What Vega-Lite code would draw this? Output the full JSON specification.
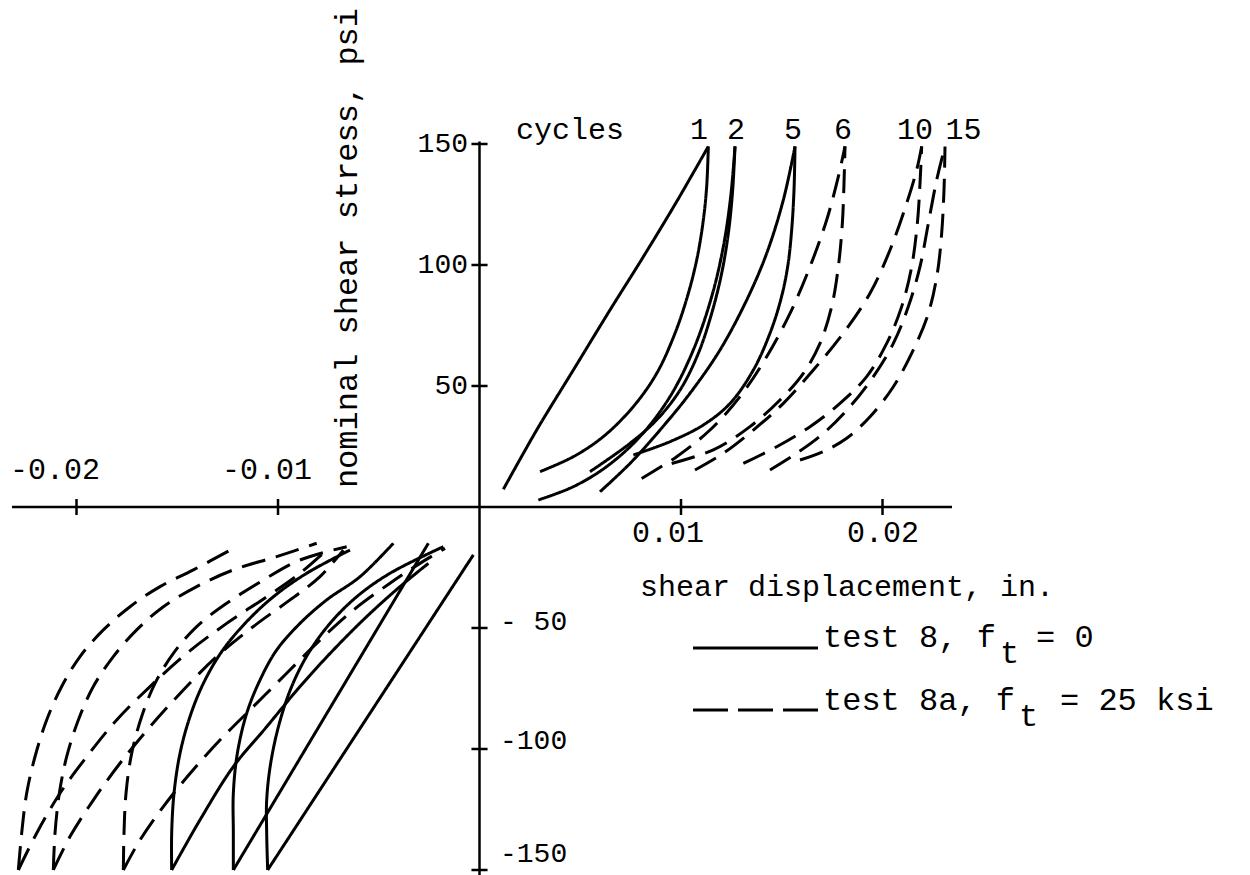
{
"$schema":"https://vega.github.io/schema/vega-lite/v6.json",
"width":1250,"height":875,"autosize":{"type":"none"},"padding":0,
"background":"white",
"config":{"view":{"stroke":null}},
"datasets":{
"rules":[
{"disp":-0.0232,"disp2":0.02345,"stress":0,"stress2":0},
{"disp":0,"disp2":0,"stress":151,"stress2":-153},
{"disp":-0.02,"disp2":-0.02,"stress":3.3,"stress2":-3.3},
{"disp":-0.01,"disp2":-0.01,"stress":3.3,"stress2":-3.3},
{"disp":0.01,"disp2":0.01,"stress":3.3,"stress2":-3.3},
{"disp":0.02,"disp2":0.02,"stress":3.3,"stress2":-3.3},
{"disp":-0.0004,"disp2":0.0004,"stress":150,"stress2":150},
{"disp":-0.0004,"disp2":0.0004,"stress":100,"stress2":100},
{"disp":-0.0004,"disp2":0.0004,"stress":50,"stress2":50},
{"disp":-0.0004,"disp2":0.0004,"stress":-50,"stress2":-50},
{"disp":-0.0004,"disp2":0.0004,"stress":-100,"stress2":-100},
{"disp":-0.0004,"disp2":0.0004,"stress":-150,"stress2":-150}
],
"legend":[
{"test":"test 8","disp":0.010596,"stress":-58.3},
{"test":"test 8","disp":0.016799,"stress":-58.3},
{"test":"test 8a","disp":0.010596,"stress":-83.9},
{"test":"test 8a","disp":0.016799,"stress":-83.9}
],
"labels":[
{"text":"nominal shear stress, psi","disp":-0.006576,"stress":107.0,"kind":"title"},
{"text":"cycles","disp":0.004491,"stress":155.8,"kind":"c"},
{"text":"1","disp":0.010893,"stress":155.8,"kind":"c"},
{"text":"2","disp":0.01273,"stress":155.8,"kind":"c"},
{"text":"5","disp":0.015558,"stress":155.8,"kind":"c"},
{"text":"6","disp":0.01804,"stress":155.8,"kind":"c"},
{"text":"10","disp":0.021613,"stress":155.8,"kind":"c"},
{"text":"15","disp":0.02402,"stress":155.8,"kind":"c"},
{"text":"-0.02","disp":-0.021067,"stress":15.3,"kind":"c"},
{"text":"-0.01","disp":-0.010546,"stress":15.3,"kind":"c"},
{"text":"0.01","disp":0.009355,"stress":-10.7,"kind":"c"},
{"text":"0.02","disp":0.020025,"stress":-10.7,"kind":"c"},
{"text":"150","disp":-0.00057,"stress":150,"kind":"r"},
{"text":"100","disp":-0.00057,"stress":100,"kind":"r"},
{"text":"50","disp":-0.00057,"stress":50,"kind":"r"},
{"text":"- 50","disp":0.001017,"stress":-47.5,"kind":"l"},
{"text":"-100","disp":0.001017,"stress":-96.5,"kind":"l"},
{"text":"-150","disp":0.001017,"stress":-143.5,"kind":"l"},
{"text":"shear displacement, in.","disp":0.007965,"stress":-33.1,"kind":"t"},
{"text":"test 8, f","disp":0.017047,"stress":-53.7,"kind":"g"},
{"text":"t","disp":0.025831,"stress":-60.3,"kind":"g"},
{"text":"= 0","disp":0.027618,"stress":-53.7,"kind":"g"},
{"text":"test 8a, f","disp":0.017047,"stress":-79.8,"kind":"g"},
{"text":"t","disp":0.026774,"stress":-86.4,"kind":"g"},
{"text":"= 25 ksi","disp":0.028809,"stress":-79.8,"kind":"g"}
],
"curves":[
{"curve":"s1a","test":"test 8","k":0,"disp":0.001183,"stress":7.3},
{"curve":"s1a","test":"test 8","k":1,"disp":0.002837,"stress":31.8},
{"curve":"s1a","test":"test 8","k":2,"disp":0.004657,"stress":56.6},
{"curve":"s1a","test":"test 8","k":3,"disp":0.006476,"stress":81.4},
{"curve":"s1a","test":"test 8","k":4,"disp":0.00813,"stress":103.4},
{"curve":"s1a","test":"test 8","k":5,"disp":0.009785,"stress":126.2},
{"curve":"s1a","test":"test 8","k":6,"disp":0.011356,"stress":149},
{"curve":"s1b","test":"test 8","k":0,"disp":0.003003,"stress":14.6},
{"curve":"s1b","test":"test 8","k":1,"disp":0.004657,"stress":20.8},
{"curve":"s1b","test":"test 8","k":2,"disp":0.006146,"stress":29.1},
{"curve":"s1b","test":"test 8","k":3,"disp":0.007634,"stress":41.5},
{"curve":"s1b","test":"test 8","k":4,"disp":0.008792,"stress":55.2},
{"curve":"s1b","test":"test 8","k":5,"disp":0.009702,"stress":71.8},
{"curve":"s1b","test":"test 8","k":6,"disp":0.010364,"stress":88.3},
{"curve":"s1b","test":"test 8","k":7,"disp":0.010811,"stress":103.4},
{"curve":"s1b","test":"test 8","k":8,"disp":0.011108,"stress":118.6},
{"curve":"s1b","test":"test 8","k":9,"disp":0.011274,"stress":132.4},
{"curve":"s1b","test":"test 8","k":10,"disp":0.011356,"stress":149},
{"curve":"s2a","test":"test 8","k":0,"disp":0.00292,"stress":2.9},
{"curve":"s2a","test":"test 8","k":1,"disp":0.004657,"stress":8.4},
{"curve":"s2a","test":"test 8","k":2,"disp":0.006311,"stress":16.7},
{"curve":"s2a","test":"test 8","k":3,"disp":0.007965,"stress":29.1},
{"curve":"s2a","test":"test 8","k":4,"disp":0.009454,"stress":45.6},
{"curve":"s2a","test":"test 8","k":5,"disp":0.010612,"stress":64.9},
{"curve":"s2a","test":"test 8","k":6,"disp":0.011522,"stress":86.9},
{"curve":"s2a","test":"test 8","k":7,"disp":0.012101,"stress":107.6},
{"curve":"s2a","test":"test 8","k":8,"disp":0.012465,"stress":128.2},
{"curve":"s2a","test":"test 8","k":9,"disp":0.01268,"stress":149},
{"curve":"s2b","test":"test 8","k":0,"disp":0.005484,"stress":14.6},
{"curve":"s2b","test":"test 8","k":1,"disp":0.007469,"stress":26.3},
{"curve":"s2b","test":"test 8","k":2,"disp":0.008792,"stress":36.0},
{"curve":"s2b","test":"test 8","k":3,"disp":0.00995,"stress":48.3},
{"curve":"s2b","test":"test 8","k":4,"disp":0.01086,"stress":63.5},
{"curve":"s2b","test":"test 8","k":5,"disp":0.011522,"stress":80.0},
{"curve":"s2b","test":"test 8","k":6,"disp":0.012018,"stress":96.6},
{"curve":"s2b","test":"test 8","k":7,"disp":0.012349,"stress":113.1},
{"curve":"s2b","test":"test 8","k":8,"disp":0.012564,"stress":131.0},
{"curve":"s2b","test":"test 8","k":9,"disp":0.01268,"stress":149},
{"curve":"s5a","test":"test 8","k":0,"disp":0.00598,"stress":6.3},
{"curve":"s5a","test":"test 8","k":1,"disp":0.007469,"stress":18.0},
{"curve":"s5a","test":"test 8","k":2,"disp":0.008958,"stress":31.8},
{"curve":"s5a","test":"test 8","k":3,"disp":0.010447,"stress":47.0},
{"curve":"s5a","test":"test 8","k":4,"disp":0.011936,"stress":64.9},
{"curve":"s5a","test":"test 8","k":5,"disp":0.013259,"stress":85.5},
{"curve":"s5a","test":"test 8","k":6,"disp":0.014251,"stress":104.8},
{"curve":"s5a","test":"test 8","k":7,"disp":0.015079,"stress":126.9},
{"curve":"s5a","test":"test 8","k":8,"disp":0.015658,"stress":149},
{"curve":"s5b","test":"test 8","k":0,"disp":0.007634,"stress":21.5},
{"curve":"s5b","test":"test 8","k":1,"disp":0.009454,"stress":27.0},
{"curve":"s5b","test":"test 8","k":2,"disp":0.011108,"stress":33.9},
{"curve":"s5b","test":"test 8","k":3,"disp":0.012432,"stress":42.8},
{"curve":"s5b","test":"test 8","k":4,"disp":0.01359,"stress":56.6},
{"curve":"s5b","test":"test 8","k":5,"disp":0.014416,"stress":71.8},
{"curve":"s5b","test":"test 8","k":6,"disp":0.014946,"stress":85.5},
{"curve":"s5b","test":"test 8","k":7,"disp":0.015294,"stress":99.3},
{"curve":"s5b","test":"test 8","k":8,"disp":0.015492,"stress":114.5},
{"curve":"s5b","test":"test 8","k":9,"disp":0.015608,"stress":131.0},
{"curve":"s5b","test":"test 8","k":10,"disp":0.015658,"stress":149},
{"curve":"d6a","test":"test 8a","k":0,"disp":0.008048,"stress":11.8},
{"curve":"d6a","test":"test 8a","k":1,"disp":0.009785,"stress":20.8},
{"curve":"d6a","test":"test 8a","k":2,"disp":0.011439,"stress":31.8},
{"curve":"d6a","test":"test 8a","k":3,"disp":0.012928,"stress":45.6},
{"curve":"d6a","test":"test 8a","k":4,"disp":0.014251,"stress":62.1},
{"curve":"d6a","test":"test 8a","k":5,"disp":0.015409,"stress":80.0},
{"curve":"d6a","test":"test 8a","k":6,"disp":0.016402,"stress":99.3},
{"curve":"d6a","test":"test 8a","k":7,"disp":0.017229,"stress":118.6},
{"curve":"d6a","test":"test 8a","k":8,"disp":0.017808,"stress":136.5},
{"curve":"d6a","test":"test 8a","k":9,"disp":0.018139,"stress":149},
{"curve":"d6b","test":"test 8a","k":0,"disp":0.009537,"stress":18.0},
{"curve":"d6b","test":"test 8a","k":1,"disp":0.011605,"stress":23.6},
{"curve":"d6b","test":"test 8a","k":2,"disp":0.013424,"stress":33.2},
{"curve":"d6b","test":"test 8a","k":3,"disp":0.014913,"stress":44.2},
{"curve":"d6b","test":"test 8a","k":4,"disp":0.016071,"stress":55.2},
{"curve":"d6b","test":"test 8a","k":5,"disp":0.016898,"stress":67.6},
{"curve":"d6b","test":"test 8a","k":6,"disp":0.017477,"stress":82.8},
{"curve":"d6b","test":"test 8a","k":7,"disp":0.017808,"stress":99.3},
{"curve":"d6b","test":"test 8a","k":8,"disp":0.018007,"stress":117.2},
{"curve":"d6b","test":"test 8a","k":9,"disp":0.018089,"stress":133.7},
{"curve":"d6b","test":"test 8a","k":10,"disp":0.018139,"stress":149},
{"curve":"d10a","test":"test 8a","k":0,"disp":0.010695,"stress":15.3},
{"curve":"d10a","test":"test 8a","k":1,"disp":0.012101,"stress":22.2},
{"curve":"d10a","test":"test 8a","k":2,"disp":0.01359,"stress":31.8},
{"curve":"d10a","test":"test 8a","k":3,"disp":0.015079,"stress":42.8},
{"curve":"d10a","test":"test 8a","k":4,"disp":0.016567,"stress":56.6},
{"curve":"d10a","test":"test 8a","k":5,"disp":0.018056,"stress":71.8},
{"curve":"d10a","test":"test 8a","k":6,"disp":0.01938,"stress":88.3},
{"curve":"d10a","test":"test 8a","k":7,"disp":0.020372,"stress":106.2},
{"curve":"d10a","test":"test 8a","k":8,"disp":0.021199,"stress":125.5},
{"curve":"d10a","test":"test 8a","k":9,"disp":0.021696,"stress":139.3},
{"curve":"d10a","test":"test 8a","k":10,"disp":0.021944,"stress":149},
{"curve":"d10b","test":"test 8a","k":0,"disp":0.013093,"stress":18.0},
{"curve":"d10b","test":"test 8a","k":1,"disp":0.014747,"stress":24.9},
{"curve":"d10b","test":"test 8a","k":2,"disp":0.016402,"stress":33.2},
{"curve":"d10b","test":"test 8a","k":3,"disp":0.017891,"stress":42.8},
{"curve":"d10b","test":"test 8a","k":4,"disp":0.019214,"stress":53.9},
{"curve":"d10b","test":"test 8a","k":5,"disp":0.020207,"stress":67.6},
{"curve":"d10b","test":"test 8a","k":6,"disp":0.020951,"stress":82.8},
{"curve":"d10b","test":"test 8a","k":7,"disp":0.021447,"stress":99.3},
{"curve":"d10b","test":"test 8a","k":8,"disp":0.021729,"stress":117.2},
{"curve":"d10b","test":"test 8a","k":9,"disp":0.021861,"stress":133.7},
{"curve":"d10b","test":"test 8a","k":10,"disp":0.021944,"stress":149},
{"curve":"d15a","test":"test 8a","k":0,"disp":0.014416,"stress":15.3},
{"curve":"d15a","test":"test 8a","k":1,"disp":0.01574,"stress":22.2},
{"curve":"d15a","test":"test 8a","k":2,"disp":0.017064,"stress":30.4},
{"curve":"d15a","test":"test 8a","k":3,"disp":0.018387,"stress":41.5},
{"curve":"d15a","test":"test 8a","k":4,"disp":0.019545,"stress":53.9},
{"curve":"d15a","test":"test 8a","k":5,"disp":0.020538,"stress":67.6},
{"curve":"d15a","test":"test 8a","k":6,"disp":0.021282,"stress":82.8},
{"curve":"d15a","test":"test 8a","k":7,"disp":0.021861,"stress":99.3},
{"curve":"d15a","test":"test 8a","k":8,"disp":0.022275,"stress":117.2},
{"curve":"d15a","test":"test 8a","k":9,"disp":0.022688,"stress":135.1},
{"curve":"d15a","test":"test 8a","k":10,"disp":0.023102,"stress":149},
{"curve":"d15b","test":"test 8a","k":0,"disp":0.015906,"stress":19.4},
{"curve":"d15b","test":"test 8a","k":1,"disp":0.017064,"stress":22.9},
{"curve":"d15b","test":"test 8a","k":2,"disp":0.018222,"stress":28.4},
{"curve":"d15b","test":"test 8a","k":3,"disp":0.01938,"stress":37.3},
{"curve":"d15b","test":"test 8a","k":4,"disp":0.020538,"stress":49.7},
{"curve":"d15b","test":"test 8a","k":5,"disp":0.02153,"stress":64.9},
{"curve":"d15b","test":"test 8a","k":6,"disp":0.022275,"stress":80.0},
{"curve":"d15b","test":"test 8a","k":7,"disp":0.022721,"stress":96.6},
{"curve":"d15b","test":"test 8a","k":8,"disp":0.022936,"stress":113.1},
{"curve":"d15b","test":"test 8a","k":9,"disp":0.023052,"stress":131.0},
{"curve":"d15b","test":"test 8a","k":10,"disp":0.023102,"stress":149},
{"curve":"n1a","test":"test 8","k":0,"disp":-0.010513,"stress":-150},
{"curve":"n1a","test":"test 8","k":1,"disp":-0.00541,"stress":-84.9},
{"curve":"n1a","test":"test 8","k":2,"disp":-0.000306,"stress":-19.8},
{"curve":"n1b","test":"test 8","k":0,"disp":-0.010513,"stress":-150},
{"curve":"n1b","test":"test 8","k":1,"disp":-0.010562,"stress":-134.8},
{"curve":"n1b","test":"test 8","k":2,"disp":-0.010562,"stress":-121.1},
{"curve":"n1b","test":"test 8","k":3,"disp":-0.010364,"stress":-105.9},
{"curve":"n1b","test":"test 8","k":4,"disp":-0.009934,"stress":-89.4},
{"curve":"n1b","test":"test 8","k":5,"disp":-0.009322,"stress":-74.2},
{"curve":"n1b","test":"test 8","k":6,"disp":-0.008495,"stress":-60.5},
{"curve":"n1b","test":"test 8","k":7,"disp":-0.007419,"stress":-48.1},
{"curve":"n1b","test":"test 8","k":8,"disp":-0.006096,"stress":-37.1},
{"curve":"n1b","test":"test 8","k":9,"disp":-0.004442,"stress":-27.4},
{"curve":"n1b","test":"test 8","k":10,"disp":-0.001795,"stress":-16.4},
{"curve":"n2a","test":"test 8","k":0,"disp":-0.012217,"stress":-150},
{"curve":"n2a","test":"test 8","k":1,"disp":-0.007378,"stress":-82.5},
{"curve":"n2a","test":"test 8","k":2,"disp":-0.002539,"stress":-15.0},
{"curve":"n2b","test":"test 8","k":0,"disp":-0.012217,"stress":-150},
{"curve":"n2b","test":"test 8","k":1,"disp":-0.012217,"stress":-134.8},
{"curve":"n2b","test":"test 8","k":2,"disp":-0.012217,"stress":-118.3},
{"curve":"n2b","test":"test 8","k":3,"disp":-0.012018,"stress":-101.8},
{"curve":"n2b","test":"test 8","k":4,"disp":-0.011555,"stress":-85.3},
{"curve":"n2b","test":"test 8","k":5,"disp":-0.010893,"stress":-71.5},
{"curve":"n2b","test":"test 8","k":6,"disp":-0.010066,"stress":-59.1},
{"curve":"n2b","test":"test 8","k":7,"disp":-0.008909,"stress":-48.1},
{"curve":"n2b","test":"test 8","k":8,"disp":-0.007585,"stress":-38.4},
{"curve":"n2b","test":"test 8","k":9,"disp":-0.005931,"stress":-28.8},
{"curve":"n2b","test":"test 8","k":10,"disp":-0.004276,"stress":-15.0},
{"curve":"n5a","test":"test 8","k":0,"disp":-0.015277,"stress":-150},
{"curve":"n5a","test":"test 8","k":1,"disp":-0.013871,"stress":-129.3},
{"curve":"n5a","test":"test 8","k":2,"disp":-0.012217,"stress":-107.3},
{"curve":"n5a","test":"test 8","k":3,"disp":-0.010562,"stress":-90.8},
{"curve":"n5a","test":"test 8","k":4,"disp":-0.008909,"stress":-74.2},
{"curve":"n5a","test":"test 8","k":5,"disp":-0.007254,"stress":-59.1},
{"curve":"n5a","test":"test 8","k":6,"disp":-0.0056,"stress":-45.3},
{"curve":"n5a","test":"test 8","k":7,"disp":-0.003945,"stress":-32.9},
{"curve":"n5a","test":"test 8","k":8,"disp":-0.002539,"stress":-23.3},
{"curve":"n5b","test":"test 8","k":0,"disp":-0.015277,"stress":-150},
{"curve":"n5b","test":"test 8","k":1,"disp":-0.015277,"stress":-134.8},
{"curve":"n5b","test":"test 8","k":2,"disp":-0.015161,"stress":-118.3},
{"curve":"n5b","test":"test 8","k":3,"disp":-0.014863,"stress":-101.8},
{"curve":"n5b","test":"test 8","k":4,"disp":-0.014367,"stress":-86.6},
{"curve":"n5b","test":"test 8","k":5,"disp":-0.013705,"stress":-72.9},
{"curve":"n5b","test":"test 8","k":6,"disp":-0.012796,"stress":-59.8},
{"curve":"n5b","test":"test 8","k":7,"disp":-0.011638,"stress":-48.1},
{"curve":"n5b","test":"test 8","k":8,"disp":-0.010232,"stress":-37.1},
{"curve":"n5b","test":"test 8","k":9,"disp":-0.008578,"stress":-27.4},
{"curve":"n5b","test":"test 8","k":10,"disp":-0.006427,"stress":-17.8},
{"curve":"m6a","test":"test 8a","k":0,"disp":-0.017676,"stress":-150},
{"curve":"m6a","test":"test 8a","k":1,"disp":-0.017643,"stress":-134.8},
{"curve":"m6a","test":"test 8a","k":2,"disp":-0.017543,"stress":-118.3},
{"curve":"m6a","test":"test 8a","k":3,"disp":-0.017262,"stress":-101.8},
{"curve":"m6a","test":"test 8a","k":4,"disp":-0.016766,"stress":-86.6},
{"curve":"m6a","test":"test 8a","k":5,"disp":-0.016104,"stress":-72.9},
{"curve":"m6a","test":"test 8a","k":6,"disp":-0.015194,"stress":-60.5},
{"curve":"m6a","test":"test 8a","k":7,"disp":-0.014036,"stress":-49.4},
{"curve":"m6a","test":"test 8a","k":8,"disp":-0.012548,"stress":-39.8},
{"curve":"m6a","test":"test 8a","k":9,"disp":-0.010728,"stress":-30.2},
{"curve":"m6a","test":"test 8a","k":10,"disp":-0.008909,"stress":-21.9},
{"curve":"m6a","test":"test 8a","k":11,"disp":-0.006592,"stress":-16.4},
{"curve":"m6b","test":"test 8a","k":0,"disp":-0.017676,"stress":-150},
{"curve":"m6b","test":"test 8a","k":1,"disp":-0.016849,"stress":-137.6},
{"curve":"m6b","test":"test 8a","k":2,"disp":-0.01569,"stress":-123.8},
{"curve":"m6b","test":"test 8a","k":3,"disp":-0.014367,"stress":-110.1},
{"curve":"m6b","test":"test 8a","k":4,"disp":-0.012878,"stress":-96.3},
{"curve":"m6b","test":"test 8a","k":5,"disp":-0.011224,"stress":-82.5},
{"curve":"m6b","test":"test 8a","k":6,"disp":-0.00957,"stress":-68.7},
{"curve":"m6b","test":"test 8a","k":7,"disp":-0.007916,"stress":-55.0},
{"curve":"m6b","test":"test 8a","k":8,"disp":-0.006261,"stress":-42.6},
{"curve":"m6b","test":"test 8a","k":9,"disp":-0.004442,"stress":-31.5},
{"curve":"m6b","test":"test 8a","k":10,"disp":-0.002953,"stress":-23.3},
{"curve":"m6b","test":"test 8a","k":11,"disp":-0.001712,"stress":-17.1},
{"curve":"m10a","test":"test 8a","k":0,"disp":-0.02115,"stress":-150},
{"curve":"m10a","test":"test 8a","k":1,"disp":-0.021067,"stress":-134.8},
{"curve":"m10a","test":"test 8a","k":2,"disp":-0.020852,"stress":-118.3},
{"curve":"m10a","test":"test 8a","k":3,"disp":-0.020488,"stress":-103.2},
{"curve":"m10a","test":"test 8a","k":4,"disp":-0.019909,"stress":-88.0},
{"curve":"m10a","test":"test 8a","k":5,"disp":-0.019165,"stress":-74.2},
{"curve":"m10a","test":"test 8a","k":6,"disp":-0.018172,"stress":-61.8},
{"curve":"m10a","test":"test 8a","k":7,"disp":-0.017014,"stress":-50.8},
{"curve":"m10a","test":"test 8a","k":8,"disp":-0.01569,"stress":-41.2},
{"curve":"m10a","test":"test 8a","k":9,"disp":-0.014036,"stress":-32.9},
{"curve":"m10a","test":"test 8a","k":10,"disp":-0.012217,"stress":-26.0},
{"curve":"m10a","test":"test 8a","k":11,"disp":-0.010066,"stress":-20.5},
{"curve":"m10a","test":"test 8a","k":12,"disp":-0.008081,"stress":-15.0},
{"curve":"m10b","test":"test 8a","k":0,"disp":-0.02115,"stress":-150},
{"curve":"m10b","test":"test 8a","k":1,"disp":-0.020323,"stress":-136.2},
{"curve":"m10b","test":"test 8a","k":2,"disp":-0.019165,"stress":-121.1},
{"curve":"m10b","test":"test 8a","k":3,"disp":-0.017841,"stress":-105.9},
{"curve":"m10b","test":"test 8a","k":4,"disp":-0.016352,"stress":-90.8},
{"curve":"m10b","test":"test 8a","k":5,"disp":-0.014698,"stress":-75.6},
{"curve":"m10b","test":"test 8a","k":6,"disp":-0.013044,"stress":-61.8},
{"curve":"m10b","test":"test 8a","k":7,"disp":-0.011224,"stress":-49.4},
{"curve":"m10b","test":"test 8a","k":8,"disp":-0.009405,"stress":-38.4},
{"curve":"m10b","test":"test 8a","k":9,"disp":-0.007916,"stress":-28.8},
{"curve":"m10b","test":"test 8a","k":10,"disp":-0.006758,"stress":-17.8},
{"curve":"m15a","test":"test 8a","k":0,"disp":-0.022887,"stress":-150},
{"curve":"m15a","test":"test 8a","k":1,"disp":-0.022721,"stress":-134.8},
{"curve":"m15a","test":"test 8a","k":2,"disp":-0.022473,"stress":-118.3},
{"curve":"m15a","test":"test 8a","k":3,"disp":-0.02206,"stress":-103.2},
{"curve":"m15a","test":"test 8a","k":4,"disp":-0.021481,"stress":-88.0},
{"curve":"m15a","test":"test 8a","k":5,"disp":-0.020736,"stress":-74.2},
{"curve":"m15a","test":"test 8a","k":6,"disp":-0.019826,"stress":-61.8},
{"curve":"m15a","test":"test 8a","k":7,"disp":-0.018669,"stress":-50.8},
{"curve":"m15a","test":"test 8a","k":8,"disp":-0.017345,"stress":-41.2},
{"curve":"m15a","test":"test 8a","k":9,"disp":-0.015856,"stress":-32.9},
{"curve":"m15a","test":"test 8a","k":10,"disp":-0.014201,"stress":-26.0},
{"curve":"m15a","test":"test 8a","k":11,"disp":-0.012217,"stress":-17.1},
{"curve":"m15b","test":"test 8a","k":0,"disp":-0.022887,"stress":-150},
{"curve":"m15b","test":"test 8a","k":1,"disp":-0.021977,"stress":-134.8},
{"curve":"m15b","test":"test 8a","k":2,"disp":-0.020819,"stress":-118.3},
{"curve":"m15b","test":"test 8a","k":3,"disp":-0.019495,"stress":-103.2},
{"curve":"m15b","test":"test 8a","k":4,"disp":-0.018007,"stress":-88.0},
{"curve":"m15b","test":"test 8a","k":5,"disp":-0.016352,"stress":-74.2},
{"curve":"m15b","test":"test 8a","k":6,"disp":-0.014532,"stress":-60.5},
{"curve":"m15b","test":"test 8a","k":7,"disp":-0.012548,"stress":-48.1},
{"curve":"m15b","test":"test 8a","k":8,"disp":-0.010562,"stress":-37.1},
{"curve":"m15b","test":"test 8a","k":9,"disp":-0.008909,"stress":-27.4},
{"curve":"m15b","test":"test 8a","k":10,"disp":-0.007585,"stress":-17.8}
]
},
"layer":[
{"data":{"name":"rules"},"mark":{"type":"rule","color":"black","strokeWidth":2.5},
 "encoding":{
  "x":{"field":"disp","type":"quantitative","scale":{"domain":[-0.023797,0.038238],"nice":false,"zero":false},"axis":null},
  "x2":{"field":"disp2"},
  "y":{"field":"stress","type":"quantitative","scale":{"domain":[-152.07,209.5],"nice":false,"zero":false},"axis":null},
  "y2":{"field":"stress2"}}},
{"data":{"name":"curves"},"mark":{"type":"line","color":"black","strokeWidth":3,"interpolate":"catmull-rom"},
 "encoding":{
  "x":{"field":"disp","type":"quantitative","scale":{"domain":[-0.023797,0.038238],"nice":false,"zero":false},"axis":null},
  "y":{"field":"stress","type":"quantitative","scale":{"domain":[-152.07,209.5],"nice":false,"zero":false},"axis":null},
  "detail":{"field":"curve","type":"nominal"},
  "order":{"field":"k","type":"quantitative"},
  "strokeDash":{"field":"test","type":"nominal","scale":{"domain":["test 8","test 8a"],"range":[[1,0],[24,11]]},"legend":null}}},
{"data":{"name":"legend"},"transform":[{"filter":"datum.test === 'test 8'"}],"mark":{"type":"line","color":"black","strokeWidth":3},
 "encoding":{
  "x":{"field":"disp","type":"quantitative","scale":{"domain":[-0.023797,0.038238],"nice":false,"zero":false},"axis":null},
  "y":{"field":"stress","type":"quantitative","scale":{"domain":[-152.07,209.5],"nice":false,"zero":false},"axis":null}}},
{"data":{"name":"legend"},"transform":[{"filter":"datum.test === 'test 8a'"}],"mark":{"type":"line","color":"black","strokeWidth":3,"strokeDash":[35,10]},
 "encoding":{
  "x":{"field":"disp","type":"quantitative","scale":{"domain":[-0.023797,0.038238],"nice":false,"zero":false},"axis":null},
  "y":{"field":"stress","type":"quantitative","scale":{"domain":[-152.07,209.5],"nice":false,"zero":false},"axis":null}}},
{"data":{"name":"labels"},"transform":[{"filter":"datum.kind === 'c'"}],
 "mark":{"type":"text","font":"Liberation Mono","fontSize":30,"color":"black","align":"center","baseline":"middle"},
 "encoding":{
  "x":{"field":"disp","type":"quantitative","scale":{"domain":[-0.023797,0.038238],"nice":false,"zero":false},"axis":null},
  "y":{"field":"stress","type":"quantitative","scale":{"domain":[-152.07,209.5],"nice":false,"zero":false},"axis":null},
  "text":{"field":"text"}}},
{"data":{"name":"labels"},"transform":[{"filter":"datum.kind === 'r'"}],
 "mark":{"type":"text","font":"Liberation Mono","fontSize":28,"color":"black","align":"right","baseline":"middle"},
 "encoding":{
  "x":{"field":"disp","type":"quantitative","scale":{"domain":[-0.023797,0.038238],"nice":false,"zero":false},"axis":null},
  "y":{"field":"stress","type":"quantitative","scale":{"domain":[-152.07,209.5],"nice":false,"zero":false},"axis":null},
  "text":{"field":"text"}}},
{"data":{"name":"labels"},"transform":[{"filter":"datum.kind === 'l'"}],
 "mark":{"type":"text","font":"Liberation Mono","fontSize":28,"color":"black","align":"left","baseline":"middle"},
 "encoding":{
  "x":{"field":"disp","type":"quantitative","scale":{"domain":[-0.023797,0.038238],"nice":false,"zero":false},"axis":null},
  "y":{"field":"stress","type":"quantitative","scale":{"domain":[-152.07,209.5],"nice":false,"zero":false},"axis":null},
  "text":{"field":"text"}}},
{"data":{"name":"labels"},"transform":[{"filter":"datum.kind === 't'"}],
 "mark":{"type":"text","font":"Liberation Mono","fontSize":30,"color":"black","align":"left","baseline":"middle"},
 "encoding":{
  "x":{"field":"disp","type":"quantitative","scale":{"domain":[-0.023797,0.038238],"nice":false,"zero":false},"axis":null},
  "y":{"field":"stress","type":"quantitative","scale":{"domain":[-152.07,209.5],"nice":false,"zero":false},"axis":null},
  "text":{"field":"text"}}},
{"data":{"name":"labels"},"transform":[{"filter":"datum.kind === 'g'"}],
 "mark":{"type":"text","font":"Liberation Mono","fontSize":32,"color":"black","align":"left","baseline":"middle"},
 "encoding":{
  "x":{"field":"disp","type":"quantitative","scale":{"domain":[-0.023797,0.038238],"nice":false,"zero":false},"axis":null},
  "y":{"field":"stress","type":"quantitative","scale":{"domain":[-152.07,209.5],"nice":false,"zero":false},"axis":null},
  "text":{"field":"text"}}},
{"data":{"name":"labels"},"transform":[{"filter":"datum.kind === 'title'"}],
 "mark":{"type":"text","font":"Liberation Mono","fontSize":32,"color":"black","align":"center","baseline":"middle","angle":270},
 "encoding":{
  "x":{"field":"disp","type":"quantitative","scale":{"domain":[-0.023797,0.038238],"nice":false,"zero":false},"axis":null},
  "y":{"field":"stress","type":"quantitative","scale":{"domain":[-152.07,209.5],"nice":false,"zero":false},"axis":null},
  "text":{"field":"text"}}}
]
}
